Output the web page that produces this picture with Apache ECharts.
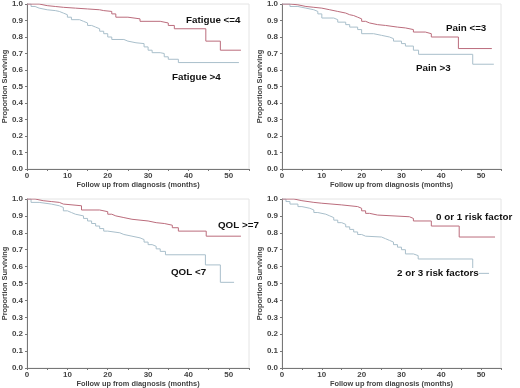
<!DOCTYPE html>
<html>
<head>
<meta charset="utf-8">
<script src="https://cdn.jsdelivr.net/npm/echarts@6/dist/echarts.min.js"></script>
<style>
  html, body { margin: 0; padding: 0; background: #fff; }
  #chart { width: 520px; height: 388px; }
</style>
</head>
<body>
<div id="chart"></div>
<script>
// survival curves: months + proportion surviving
const fatigueLowT = [0, 3, 5, 7, 9, 12, 15, 18, 19, 21, 22, 25, 28, 33, 35, 36.5, 44.3, 47.9, 53];
const fatigueLowS = [1.0, 0.99, 0.985, 0.98, 0.975, 0.97, 0.965, 0.96, 0.955, 0.94, 0.92, 0.91, 0.895, 0.885, 0.87, 0.85, 0.775, 0.72, 0.72];
const fatigueHighT = [0, 1, 2, 3, 5, 7, 8, 9, 10, 11, 13, 14, 15, 16, 17, 18, 19, 20, 21, 24, 25, 27, 29, 30, 31, 33, 34, 35, 37.5, 52.5];
const fatigueHighS = [1.0, 0.985, 0.975, 0.965, 0.96, 0.955, 0.945, 0.935, 0.92, 0.905, 0.895, 0.885, 0.87, 0.86, 0.85, 0.835, 0.82, 0.8, 0.785, 0.775, 0.765, 0.76, 0.74, 0.72, 0.705, 0.7, 0.68, 0.665, 0.645, 0.645];

const painLowT = [0, 2, 4, 6, 8, 10, 12, 14, 16, 17, 18, 19, 20, 21, 22, 24, 26, 29, 31, 33, 36, 37.5, 44.3, 52.7];
const painLowS = [1.0, 0.995, 0.985, 0.98, 0.975, 0.965, 0.955, 0.945, 0.935, 0.93, 0.92, 0.91, 0.895, 0.885, 0.875, 0.87, 0.86, 0.855, 0.845, 0.83, 0.82, 0.8, 0.73, 0.73];
const painHighT = [0, 2, 4, 6, 8, 9, 10, 13, 14, 16, 17, 19, 20, 23, 25, 27, 28, 30, 31, 33, 34.3, 47.9, 53.2];
const painHighS = [1.0, 0.985, 0.975, 0.965, 0.955, 0.94, 0.915, 0.905, 0.89, 0.875, 0.86, 0.845, 0.82, 0.81, 0.8, 0.79, 0.775, 0.76, 0.745, 0.72, 0.695, 0.635, 0.635];

const qolHighT = [0, 2, 4, 6, 8, 9, 13.5, 18, 20, 21, 22, 24, 26, 28, 30, 32, 34, 36, 37.5, 44.4, 53];
const qolHighS = [1.0, 0.99, 0.985, 0.98, 0.97, 0.96, 0.935, 0.925, 0.91, 0.9, 0.89, 0.88, 0.875, 0.87, 0.86, 0.855, 0.845, 0.83, 0.81, 0.78, 0.78];
const qolLowT = [0, 1, 3, 6, 8, 9, 10, 11, 12, 14, 15, 16, 17, 18, 19, 20, 23, 24, 26, 28, 29, 30, 31, 32, 33, 34.3, 44.2, 47.9, 51.3];
const qolLowS = [1.0, 0.98, 0.97, 0.96, 0.95, 0.93, 0.92, 0.91, 0.9, 0.885, 0.87, 0.855, 0.84, 0.825, 0.81, 0.8, 0.79, 0.78, 0.77, 0.76, 0.745, 0.73, 0.72, 0.705, 0.69, 0.67, 0.61, 0.507, 0.507];

const riskLowT = [0, 3, 5, 8, 10, 15, 19, 20, 21, 22, 24, 32, 33, 37.5, 44.5, 53.5];
const riskLowS = [1.0, 0.99, 0.98, 0.975, 0.965, 0.955, 0.945, 0.93, 0.915, 0.905, 0.895, 0.885, 0.87, 0.84, 0.775, 0.775];
const riskHighT = [0, 1, 2, 4, 5, 7, 8, 9, 11, 12, 13, 14, 15, 16, 17, 18, 19, 20, 21, 25, 26, 27, 28, 29, 30, 31, 33, 34.2, 47.9, 52];
const riskHighS = [1.0, 0.985, 0.97, 0.955, 0.945, 0.935, 0.92, 0.91, 0.9, 0.89, 0.875, 0.86, 0.85, 0.835, 0.82, 0.805, 0.79, 0.78, 0.775, 0.765, 0.755, 0.745, 0.73, 0.715, 0.7, 0.675, 0.665, 0.645, 0.56, 0.56];

const panelLabels = [
  ['Fatigue <=4', 'Fatigue >4'],
  ['Pain <=3', 'Pain >3'],
  ['QOL >=7', 'QOL <7'],
  ['0 or 1 risk factor', '2 or 3 risk factors'],
];
const xTitle = 'Follow up from diagnosis (months)';
const yTitle = 'Proportion Surviving';

const RED = '#bb6c7c';
const BLUE = '#a9bfcb';
const FONT = 'Liberation Sans, Arial, sans-serif';

const chart = echarts.init(document.getElementById('chart'));

const grids = [
  { left: 22, top: 4, width: 227, height: 165 },
  { left: 282, top: 4, width: 219, height: 165 },
  { left: 22, top: 199, width: 227, height: 169 },
  { left: 282, top: 199, width: 219, height: 169 },
].map(g => ({ ...g, show: true, borderColor: '#e4e4e4', borderWidth: 1 }));

const axisText = { fontFamily: FONT, fontSize: 8, color: '#444', fontWeight: 'bold' };

const xAxes = grids.map((g, i) => ({
  type: 'value', gridIndex: i, min: 0, max: 55, interval: 5,
  name: xTitle, nameLocation: 'middle', nameGap: 12,
  nameTextStyle: { ...axisText, fontSize: 7.4 },
  axisLine: { lineStyle: { color: '#777' } },
  axisTick: { length: 2, lineStyle: { color: '#777' } },
  axisLabel: { ...axisText, margin: 3, formatter: v => (v % 10 === 0 && v <= 50 ? String(v) : '') },
  splitLine: { show: false },
}));

const yAxes = grids.map((g, i) => ({
  type: 'value', gridIndex: i, min: 0, max: 1, interval: 0.1,
  name: yTitle, nameLocation: 'middle', nameGap: 16, nameRotate: 90,
  nameTextStyle: { ...axisText, fontSize: 7.4 },
  axisLine: { show: true, lineStyle: { color: '#777' } },
  axisTick: { show: true, length: 2, lineStyle: { color: '#777' } },
  axisLabel: { ...axisText, margin: 4, formatter: v => v.toFixed(1) },
  splitLine: { show: false },
}));

const curves = [
  [fatigueLowT, fatigueLowS, RED], [fatigueHighT, fatigueHighS, BLUE],
  [painLowT, painLowS, RED], [painHighT, painHighS, BLUE],
  [qolHighT, qolHighS, RED], [qolLowT, qolLowS, BLUE],
  [riskLowT, riskLowS, RED], [riskHighT, riskHighS, BLUE],
];

const series = curves.map(([t, s, color], k) => ({
  type: 'line',
  xAxisIndex: Math.floor(k / 2),
  yAxisIndex: Math.floor(k / 2),
  step: 'end',
  showSymbol: false,
  silent: true,
  color,
  data: t.map((m, i) => [m, s[i]]),
  lineStyle: { color, width: 1 },
  z: color === RED ? 3 : 2,
}));

// curve labels, placed like the original
const labelPos = [
  [[186, 21], [172, 78]],
  [[446, 29], [416, 69]],
  [[218, 226], [171, 273]],
  [[436, 218], [397, 274]],
];
const graphic = [];
labelPos.forEach((pair, p) => {
  pair.forEach(([x, y], j) => {
    graphic.push({
      type: 'text', left: x, top: y - 6, z: 10,
      style: {
        text: panelLabels[p][j], fill: '#111',
        font: 'bold 9.8px ' + FONT,
        backgroundColor: p === 3 && j === 1 ? '#fff' : null,
      },
    });
  });
});

chart.setOption({
  animation: false,
  grid: grids,
  xAxis: xAxes,
  yAxis: yAxes,
  series,
  graphic,
});
</script>
</body>
</html>
